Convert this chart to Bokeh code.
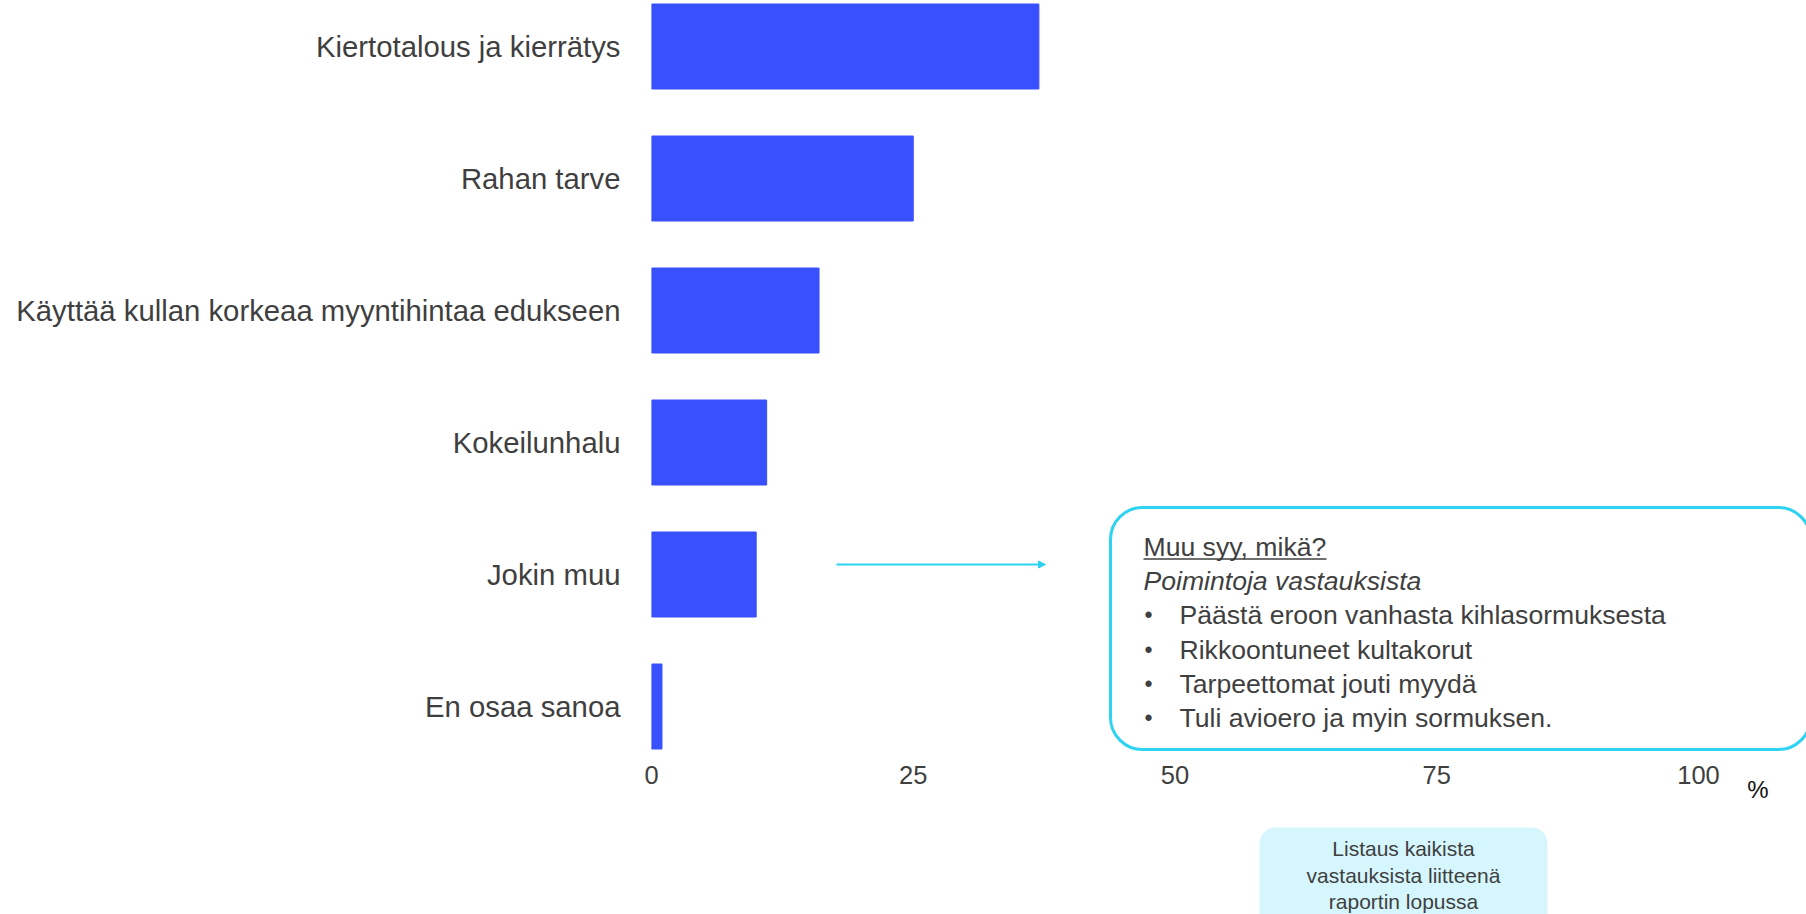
from bokeh.plotting import figure
from bokeh.layouts import column
from bokeh.models import (Range1d, FixedTicker, BoxAnnotation, Label, Arrow, NormalHead,
                          LinearAxis)
from bokeh.embed import file_html
from bokeh.resources import INLINE

# ---- data ----
categories = [
    "Kiertotalous ja kierrätys",
    "Rahan tarve",
    "Käyttää kullan korkeaa myyntihintaa edukseen",
    "Kokeilunhalu",
    "Jokin muu",
    "En osaa sanoa",
]
values = [37, 25, 16, 11, 10, 1]
x_ticks = [0, 25, 50, 75, 100]
unit_label = "%"
box_title = "Muu syy, mikä?"
box_subtitle = "Poimintoja vastauksista"
box_items = [
    "Päästä eroon vanhasta kihlasormuksesta",
    "Rikkoontuneet kultakorut",
    "Tarpeettomat jouti myydä",
    "Tuli avioero ja myin sormuksen.",
]
note_lines = ["Listaus kaikista", "vastauksista liitteenä", "raportin lopussa"]

# ---- style / layout ----
BAR = "#3950FF"
CYAN = "#2ED3F2"
NOTE_FILL = "#D5F6FD"
TEXT = "#3F3F3F"
FONT = "Liberation Sans"

W = 1806
H1, H2 = 820, 94
ML = 651
FRAME_BOTTOM = 753
PX_PER_X = 10.47
PX_PER_CAT = 132.0
CAT0_Y = 46.0
x_end = (W - ML) / PX_PER_X
y_top = -CAT0_Y / PX_PER_CAT
y_bottom = (FRAME_BOTTOM - CAT0_Y) / PX_PER_CAT


def X(sx):
    return (sx - ML) / PX_PER_X


def Y(sy):
    return (sy - CAT0_Y) / PX_PER_CAT


def lab(x, y, text, size, align="left", style="normal", color=TEXT):
    return Label(x=x, y=y, text=text, text_font=FONT, text_font_size=size,
                 text_font_style=style, text_color=color,
                 text_baseline="middle", text_align=align)


idx = list(range(len(categories)))
xr = Range1d(0, x_end)

p = figure(
    width=W, height=H1,
    x_range=xr, y_range=Range1d(y_bottom, y_top),
    output_backend="svg", toolbar_location=None,
    min_border_left=ML, min_border_right=0, min_border_top=0,
    min_border_bottom=H1 - FRAME_BOTTOM,
)
p.outline_line_color = None
p.background_fill_color = "white"
p.border_fill_color = "white"
p.grid.visible = False

p.hbar(y=idx, left=0, right=values, height=85 / PX_PER_CAT, color=BAR)

# y axis (categories)
p.yaxis.ticker = FixedTicker(ticks=idx)
p.yaxis.major_label_overrides = {i: c for i, c in zip(idx, categories)}
p.yaxis.axis_line_color = None
p.yaxis.major_tick_line_color = None
p.yaxis.minor_tick_line_color = None
p.yaxis.major_tick_out = 0
p.yaxis.major_label_standoff = 31
p.yaxis.major_label_text_font = FONT
p.yaxis.major_label_text_font_size = "29.3px"
p.yaxis.major_label_text_color = TEXT

# x axis
p.xaxis.ticker = FixedTicker(ticks=x_ticks)
p.xaxis.axis_line_color = None
p.xaxis.major_tick_line_color = None
p.xaxis.minor_tick_line_color = None
p.xaxis.major_tick_out = 0
p.xaxis.major_label_standoff = 12
p.xaxis.major_label_text_font = FONT
p.xaxis.major_label_text_font_size = "25.5px"
p.xaxis.major_label_text_color = TEXT

# unit label as a second, single-tick axis below
pct_x = X(1757.5)
pct_axis = LinearAxis(ticker=FixedTicker(ticks=[pct_x]),
                      major_label_overrides={pct_x: unit_label})
pct_axis.axis_line_color = None
pct_axis.major_tick_line_color = None
pct_axis.minor_tick_line_color = None
pct_axis.major_tick_out = 0
pct_axis.major_label_standoff = -11
pct_axis.major_label_text_font = FONT
pct_axis.major_label_text_font_size = "24px"
pct_axis.major_label_text_color = "#111111"
p.add_layout(pct_axis, "below")

# arrow from "Jokin muu" to the box
p.add_layout(Arrow(end=NormalHead(size=7, fill_color=CYAN, line_color=CYAN, line_width=1),
                   x_start=X(836), y_start=Y(564), x_end=X(1045), y_end=Y(564),
                   line_color=CYAN, line_width=2))

# info box
p.add_layout(BoxAnnotation(left=X(1110), right=X(1810), top=Y(507), bottom=Y(749),
                           fill_alpha=0, line_color=CYAN, line_width=3, line_alpha=1,
                           border_radius=32))

p.add_layout(lab(X(1143), Y(546.7), box_title, "26.6px"))
p.segment(x0=X(1143), y0=Y(558.5), x1=X(1326), y1=Y(558.5), line_color=TEXT, line_width=1.5)
p.add_layout(lab(X(1143), Y(580.7), box_subtitle, "26.6px", style="italic"))
item_centers = [614.7, 649.2, 683.2, 717.2]
for item, c in zip(box_items, item_centers):
    p.add_layout(lab(X(1144), Y(c), "•", "23px"))
    p.add_layout(lab(X(1179), Y(c), item, "26.6px"))

# ---- bottom strip with the note box (shares the x scale) ----
q = figure(
    width=W, height=H2,
    x_range=xr, y_range=Range1d(H1 + H2, H1),
    x_axis_type=None, y_axis_type=None,
    output_backend="svg", toolbar_location=None,
    min_border_left=ML, min_border_right=0, min_border_top=0, min_border_bottom=0,
)
q.outline_line_color = None
q.grid.visible = False
q.background_fill_color = "white"
q.border_fill_color = "white"

q.add_layout(BoxAnnotation(left=X(1259), right=X(1547), top=827, bottom=940,
                           fill_color=NOTE_FILL, fill_alpha=1, line_color=None,
                           border_radius=16))
note_centers = [847.5, 874.5, 901]
for line, c in zip(note_lines, note_centers):
    q.add_layout(lab(X(1403), c, line, "21px", align="center"))

layout = column(p, q, spacing=0)
open("out.html", "w").write(file_html(layout, INLINE))
